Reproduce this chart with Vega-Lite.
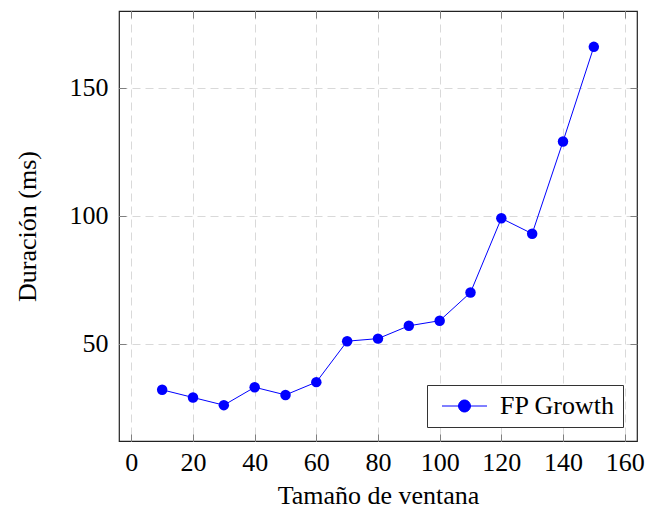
{
  "$schema": "https://vega.github.io/schema/vega-lite/v6.json",
  "width": 518,
  "height": 430,
  "autosize": {"type": "none"},
  "padding": {"left": 119, "top": 11, "right": 12, "bottom": 75},
  "background": "white",
  "config": {
    "font": "Times New Roman, Liberation Serif, serif",
    "view": {"stroke": "#222222", "strokeWidth": 1.2},
    "axis": {
      "domain": false,
      "tickColor": "#808080",
      "tickSize": -7,
      "tickWidth": 1,
      "labelFont": "Times New Roman, Liberation Serif, serif",
      "labelFontSize": 26,
      "labelColor": "black",
      "titleFont": "Times New Roman, Liberation Serif, serif",
      "titleFontSize": 26,
      "titleFontWeight": "normal",
      "titleColor": "black",
      "gridColor": "#d9d9d9",
      "gridDash": [8, 5],
      "gridWidth": 1
    },
    "legend": {
      "orient": "bottom-right",
      "offset": 14,
      "strokeColor": "#333333",
      "fillColor": "white",
      "padding": 8,
      "labelFont": "Times New Roman, Liberation Serif, serif",
      "labelFontSize": 26,
      "labelColor": "black"
    }
  },
  "data": {
    "values": [
      {"w": 10, "d": 32, "series": "FP Growth"},
      {"w": 20, "d": 29, "series": "FP Growth"},
      {"w": 30, "d": 26, "series": "FP Growth"},
      {"w": 40, "d": 33, "series": "FP Growth"},
      {"w": 50, "d": 30, "series": "FP Growth"},
      {"w": 60, "d": 35, "series": "FP Growth"},
      {"w": 70, "d": 51, "series": "FP Growth"},
      {"w": 80, "d": 52, "series": "FP Growth"},
      {"w": 90, "d": 57, "series": "FP Growth"},
      {"w": 100, "d": 59, "series": "FP Growth"},
      {"w": 110, "d": 70, "series": "FP Growth"},
      {"w": 120, "d": 99, "series": "FP Growth"},
      {"w": 130, "d": 93, "series": "FP Growth"},
      {"w": 140, "d": 129, "series": "FP Growth"},
      {"w": 150, "d": 166, "series": "FP Growth"}
    ]
  },
  "encoding": {
    "color": {
      "field": "series",
      "type": "nominal",
      "scale": {"range": ["#0000ff"]},
      "legend": {
        "title": null,
        "symbolType": "M-1,0H6.5M1.75,0A1,1 0 1,0 3.75,0A1,1 0 1,0 1.75,0",
        "symbolSize": 144,
        "symbolStrokeWidth": 1,
        "symbolFillColor": "#0000ff",
        "symbolStrokeColor": "#0000ff",
        "labelOffset": 39
      }
    }
  },
  "layer": [
    {
      "mark": {"type": "line", "strokeWidth": 1},
      "encoding": {
        "x": {
          "field": "w",
          "type": "quantitative",
          "scale": {"domain": [-4, 164], "nice": false, "zero": false},
          "axis": {
            "orient": "bottom",
            "values": [0, 20, 40, 60, 80, 100, 120, 140, 160],
            "title": "Tamaño de ventana",
            "labelPadding": 15,
            "titlePadding": 7
          }
        },
        "y": {
          "field": "d",
          "type": "quantitative",
          "scale": {"domain": [12, 180], "nice": false, "zero": false},
          "axis": {
            "orient": "left",
            "values": [50, 100, 150],
            "title": "Duración (ms)",
            "labelPadding": 18,
            "titlePadding": 29
          }
        }
      }
    },
    {
      "mark": {"type": "point", "filled": true, "size": 110, "opacity": 1},
      "encoding": {
        "x": {
          "field": "w",
          "type": "quantitative",
          "scale": {"domain": [-4, 164], "nice": false, "zero": false},
          "axis": {
            "orient": "top",
            "values": [0, 20, 40, 60, 80, 100, 120, 140, 160],
            "labels": false,
            "title": null,
            "grid": false
          }
        },
        "y": {
          "field": "d",
          "type": "quantitative",
          "scale": {"domain": [12, 180], "nice": false, "zero": false},
          "axis": {
            "orient": "right",
            "values": [50, 100, 150],
            "labels": false,
            "title": null,
            "grid": false
          }
        }
      }
    }
  ],
  "resolve": {"axis": {"x": "independent", "y": "independent"}}
}
